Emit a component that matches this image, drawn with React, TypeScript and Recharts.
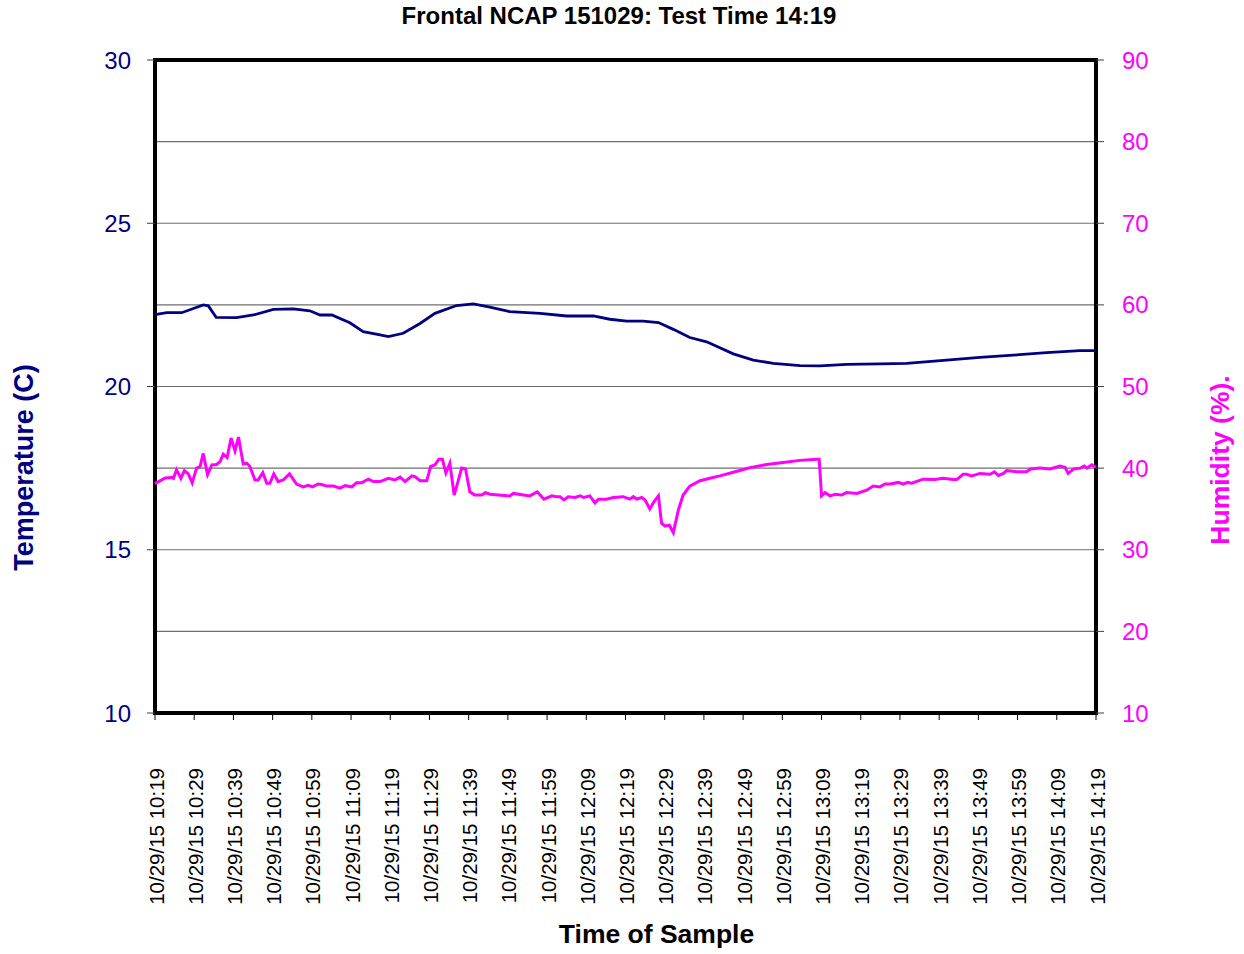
import {
  CartesianGrid,
  Label,
  Line,
  LineChart,
  ReferenceArea,
  XAxis,
  YAxis,
} from "recharts";

// minutes after 10:19 and readings
const tempTime = [
  0, 3, 6.8, 9.8, 12.3, 13.6, 15.6, 20.8, 25.1, 30.2, 35.3, 39.5, 42.1, 45.1,
  49.7, 53.1, 57.4, 59.5, 63.3, 67.6, 71.4, 76.9, 81.2, 85.4, 90.5, 98.2, 105,
  111.8, 116, 120.3, 124.5, 128.4, 132.2, 136.4, 140.7, 147.5, 152.6, 157.7,
  164.5, 169.6, 176.4, 184.9, 191.7, 201.9, 210.4, 218.9, 227.4, 235.9, 240,
];
const tempValue = [
  22.2, 22.26, 22.26, 22.39, 22.5, 22.47, 22.12, 22.11, 22.19, 22.36, 22.38,
  22.32, 22.19, 22.19, 21.95, 21.68, 21.58, 21.53, 21.63, 21.93, 22.24, 22.48,
  22.53, 22.43, 22.29, 22.24, 22.16, 22.16, 22.06, 22.0, 22.0, 21.96, 21.75,
  21.5, 21.37, 21.0, 20.81, 20.71, 20.64, 20.63, 20.68, 20.69, 20.71, 20.81,
  20.89, 20.96, 21.04, 21.1, 21.1,
];

const humTime = [
  0, 2.6, 4.3, 4.7, 5.5, 6.6, 7.5, 8.5, 9.5, 10.6, 11.5, 12.3, 13.4, 14.5, 15.7,
  16.6, 17.4, 18.4, 19.4, 20.4, 21.3, 22.5, 23.4, 24.2, 25.5, 26.3, 27.5, 28.5,
  29.3, 30.3, 31.4, 32.7, 34.3, 36.1, 37.8, 39.1, 40.2, 41.6, 42.5, 43.8, 45.5,
  47.2, 48.5, 50.2, 51.4, 52.7, 54.4, 55.7, 57.4, 59.5, 61.2, 62.5, 63.8, 65.5,
  66.3, 67.6, 69.3, 70.3, 71.4, 72.4, 73.3, 74.2, 75.2, 76.3, 77.4, 78.2, 79.2,
  80.3, 81.5, 83.3, 84.3, 85.4, 90.5, 91.4, 95.6, 97.5, 99.2, 101.2, 102.4,
  103.3, 104.3, 105.4, 107.1, 108.4, 109.4, 110.9, 112.2, 113.1, 115.2, 116.9,
  119.4, 121.1, 122.0, 122.9, 124.1, 125.0, 126.2, 127.3, 128.4, 129.2, 130.1,
  131.2, 132.2, 133.5, 134.7, 136.4, 139.0, 141.5, 144.1, 147.5, 151.7, 156.0,
  160.2, 164.5, 168.8, 169.4, 170.0, 170.9, 172.2, 173.5, 175.1, 176.4, 179.0,
  181.5, 183.2, 184.9, 186.2, 187.5, 189.6, 190.8, 191.9, 193.0, 195.9, 198.9,
  201.0, 203.6, 204.5, 206.1, 207.0, 208.3, 210.4, 213.0, 214.1, 215.1, 216.4,
  217.2, 219.8, 222.3, 223.3, 225.7, 228.3, 230.8, 232.1, 232.9, 234.3, 236.0,
  237.0, 237.7, 238.9, 240,
];
const humValue = [
  38.1, 38.8, 38.85, 38.75, 39.8, 38.75, 39.7, 39.3, 38.2, 40.0, 40.2, 41.8,
  39.2, 40.4, 40.45, 40.8, 41.7, 41.3, 43.7, 42.1, 43.8, 40.5, 40.6, 40.2,
  38.55, 38.55, 39.45, 38.15, 38.15, 39.3, 38.35, 38.55, 39.3, 38.05, 37.7,
  37.9, 37.7, 38.05, 38.0, 37.8, 37.8, 37.55, 37.85, 37.7, 38.2, 38.2, 38.65,
  38.35, 38.35, 38.75, 38.55, 38.9, 38.35, 39.05, 38.95, 38.45, 38.45, 40.2,
  40.4, 41.1, 41.1, 39.4, 40.6, 36.7, 38.55, 40.0, 39.9, 37.1, 36.7, 36.7, 37.0,
  36.8, 36.6, 36.9, 36.6, 37.1, 36.2, 36.6, 36.5, 36.5, 36.1, 36.5, 36.4, 36.6,
  36.4, 36.6, 35.75, 36.2, 36.2, 36.4, 36.5, 36.2, 36.5, 36.2, 36.4, 36.1, 35.0,
  35.9, 36.6, 33.25, 32.9, 33.0, 32.1, 34.9, 36.7, 37.8, 38.45, 38.75, 39.05,
  39.5, 40.05, 40.45, 40.7, 40.95, 41.1, 41.1, 36.6, 37.0, 36.6, 36.8, 36.7,
  37.0, 36.9, 37.3, 37.8, 37.7, 38.05, 38.05, 38.25, 38.05, 38.25, 38.15, 38.65,
  38.6, 38.75, 38.6, 38.6, 39.25, 39.25, 39.05, 39.35, 39.25, 39.55, 39.1,
  39.35, 39.7, 39.55, 39.55, 39.9, 40.0, 39.9, 40.25, 40.1, 39.35, 39.9, 40.0,
  40.25, 40.0, 40.4, 40.1,
];

const tickMinutes = [
  0, 10, 20, 30, 40, 50, 60, 70, 80, 90, 100, 110, 120, 130, 140, 150, 160, 170,
  180, 190, 200, 210, 220, 230, 240,
];
const tickLabels = [
  "10/29/15 10:19", "10/29/15 10:29", "10/29/15 10:39", "10/29/15 10:49",
  "10/29/15 10:59", "10/29/15 11:09", "10/29/15 11:19", "10/29/15 11:29",
  "10/29/15 11:39", "10/29/15 11:49", "10/29/15 11:59", "10/29/15 12:09",
  "10/29/15 12:19", "10/29/15 12:29", "10/29/15 12:39", "10/29/15 12:49",
  "10/29/15 12:59", "10/29/15 13:09", "10/29/15 13:19", "10/29/15 13:29",
  "10/29/15 13:39", "10/29/15 13:49", "10/29/15 13:59", "10/29/15 14:09",
  "10/29/15 14:19",
];
const tempTicks = [10, 15, 20, 25, 30];
const humTicks = [10, 20, 30, 40, 50, 60, 70, 80, 90];

const tempData = tempTime.map((t, i) => ({ t, temp: tempValue[i] }));
const humData = humTime.map((t, i) => ({ t, hum: humValue[i] }));

const FONT = "'Liberation Sans', Arial, sans-serif";
const NAVY = "#000080";
const MAGENTA = "#FF00FF";

function TimeTick(props: any) {
  const { x, y, payload } = props;
  const idx = tickMinutes.indexOf(payload.value);
  const tx = x + 8.5;
  const ty = y + 48;
  return (
    <text
      x={tx}
      y={ty}
      transform={`rotate(-90, ${tx}, ${ty})`}
      textAnchor="end"
      fontSize={20.5}
      fontFamily={FONT}
      fill="#000"
    >
      {tickLabels[idx]}
    </text>
  );
}

export default function App() {
  return (
    <div
      style={{
        position: "absolute",
        left: 0,
        top: 0,
        width: 1244,
        height: 954,
        background: "#fff",
        fontFamily: FONT,
      }}
    >
      <div
        style={{
          position: "absolute",
          top: 4,
          left: 0,
          width: 1238,
          textAlign: "center",
          fontSize: 24,
          lineHeight: "24px",
          fontWeight: "bold",
          color: "#000",
        }}
      >
        Frontal NCAP 151029: Test Time 14:19
      </div>
      <LineChart
        width={1244}
        height={954}
        margin={{ top: 60, right: 0, bottom: 0, left: 0 }}
      >
        <CartesianGrid
          yAxisId="hum"
          vertical={false}
          stroke="#6e6e6e"
          strokeWidth={1.2}
        />
        <XAxis
          type="number"
          dataKey="t"
          domain={[0, 240]}
          ticks={tickMinutes}
          interval={0}
          height={241}
          axisLine={false}
          tickLine={{ stroke: "#000" }}
          tickSize={7}
          tickMargin={0}
          tick={<TimeTick />}
          allowDuplicatedCategory={false}
        >
          <Label
            content={(p: any) => {
              const vb = p.viewBox;
              return (
                <text
                  x={vb.x + vb.width / 2 + 31}
                  y={vb.y + 230}
                  textAnchor="middle"
                  fontSize={26.5}
                  fontWeight="bold"
                  fontFamily={FONT}
                  fill="#000"
                >
                  Time of Sample
                </text>
              );
            }}
          />
        </XAxis>
        <YAxis
          yAxisId="temp"
          domain={[10, 30]}
          ticks={tempTicks}
          interval={0}
          width={155}
          axisLine={false}
          tickLine={{ stroke: "#404040" }}
          tickSize={8}
          tickMargin={16}
          tick={{ fill: NAVY, fontSize: 24, fontFamily: FONT }}
        >
          <Label
            content={(p: any) => {
              const vb = p.viewBox;
              const x = vb.x + 33;
              const y = vb.y + 407.5;
              return (
                <text
                  x={x}
                  y={y}
                  transform={`rotate(-90, ${x}, ${y})`}
                  textAnchor="middle"
                  fontSize={27}
                  fontWeight="bold"
                  fontFamily={FONT}
                  fill={NAVY}
                >
                  Temperature (C)
                </text>
              );
            }}
          />
        </YAxis>
        <YAxis
          yAxisId="hum"
          orientation="right"
          domain={[10, 90]}
          ticks={humTicks}
          interval={0}
          width={148}
          axisLine={false}
          tickLine={{ stroke: "#404040" }}
          tickSize={8}
          tickMargin={18}
          tick={{ fill: MAGENTA, fontSize: 24, fontFamily: FONT }}
        >
          <Label
            content={(p: any) => {
              const vb = p.viewBox;
              const x = vb.x + 133;
              const y = vb.y + 400;
              return (
                <text
                  x={x}
                  y={y}
                  transform={`rotate(-90, ${x}, ${y})`}
                  textAnchor="middle"
                  fontSize={26.5}
                  fontWeight="bold"
                  fontFamily={FONT}
                  fill={MAGENTA}
                >
                  Humidity (%).
                </text>
              );
            }}
          />
        </YAxis>
        <ReferenceArea
          yAxisId="temp"
          x1={0}
          x2={240}
          y1={10}
          y2={30}
          fill="none"
          fillOpacity={0}
          stroke="#000"
          strokeWidth={4}
        />
        <Line
          yAxisId="temp"
          data={tempData}
          dataKey="temp"
          type="linear"
          stroke={NAVY}
          strokeWidth={2.8}
          dot={false}
          isAnimationActive={false}
        />
        <Line
          yAxisId="hum"
          data={humData}
          dataKey="hum"
          type="linear"
          stroke={MAGENTA}
          strokeWidth={3}
          dot={false}
          isAnimationActive={false}
        />
      </LineChart>
    </div>
  );
}
